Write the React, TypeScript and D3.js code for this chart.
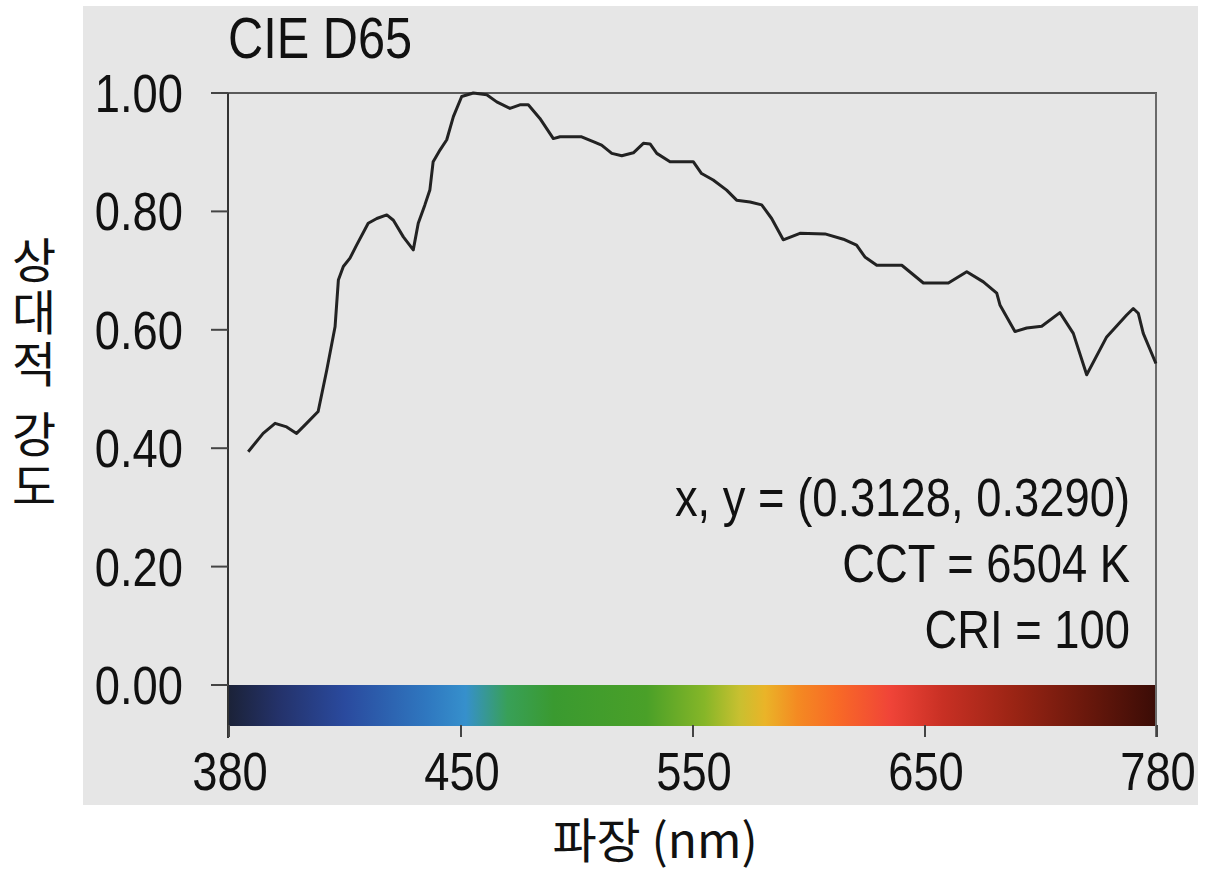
import React from 'react';
import * as d3 from 'd3';

// ---- data ----
const title = 'CIE D65';
const wavelengths = [
  385.8, 390.3, 393.9, 397.4, 400.4, 403.4, 406.9, 409.5, 412.0, 413.0,
  414.5, 416.5, 418.5, 422.0, 424.6, 427.6, 429.6, 432.6, 435.6, 437.1,
  439.1, 440.6, 441.6, 443.7, 445.7, 447.7, 450.3, 455.3, 461.1, 465.4,
  471.1, 475.4, 479.0, 484.0, 489.8, 492.7, 502.0, 507.0, 510.6, 515.0,
  519.3, 524.3, 528.6, 531.5, 534.4, 540.1, 550.1, 553.7, 558.7, 564.5,
  568.8, 574.6, 579.6, 583.9, 588.9, 596.1, 606.9, 614.8, 620.5, 624.1,
  629.2, 640.0, 649.3, 663.1, 673.4, 682.7, 690.2, 692.0, 700.4, 707.0,
  715.4, 725.6, 733.1, 740.6, 751.8, 763.0, 766.7, 769.5, 772.3, 779.4,
];
const intensities = [
  0.394, 0.425, 0.442, 0.436, 0.425, 0.442, 0.462, 0.532, 0.605, 0.684,
  0.707, 0.721, 0.743, 0.780, 0.788, 0.794, 0.785, 0.757, 0.735, 0.780,
  0.811, 0.836, 0.884, 0.904, 0.921, 0.960, 0.994, 1.000, 0.997, 0.985,
  0.974, 0.980, 0.980, 0.957, 0.923, 0.926, 0.926, 0.918, 0.912, 0.898,
  0.894, 0.899, 0.915, 0.914, 0.898, 0.884, 0.884, 0.864, 0.853, 0.836,
  0.819, 0.816, 0.811, 0.788, 0.752, 0.763, 0.762, 0.753, 0.743, 0.723,
  0.709, 0.709, 0.679, 0.679, 0.698, 0.681, 0.662, 0.642, 0.597, 0.603,
  0.606, 0.629, 0.594, 0.524, 0.588, 0.625, 0.636, 0.628, 0.594, 0.543,
];
const xTickValues = [380, 450, 550, 650, 780];
const yTickValues = [0, 0.2, 0.4, 0.6, 0.8, 1.0];
const spectrumStopNm = [380, 395, 415, 440, 452, 470, 490, 530, 555, 570, 581, 595, 612, 635, 660, 700, 740, 780];
const spectrumStopColor = [
  '#1b2238', '#24326a', '#2a4a9e', '#2f78c0', '#3690cc', '#38a058', '#3a9a30', '#4aa028',
  '#86b628', '#c8c030', '#eab428', '#f48a22', '#f86a26', '#f04438', '#c83024', '#9a2414',
  '#6a180c', '#3a0c06',
];
const annotations = ['x, y = (0.3128, 0.3290)', 'CCT = 6504 K', 'CRI = 100'];
const yLabelWords = ['상대적', '강도'];
const xLabel = '파장 (nm)';

const LATIN = "'Liberation Sans', Arial, sans-serif";
const KOREAN = "'Noto Sans CJK KR', sans-serif";
const NARROW = 0.84;

function NText(props: {
  x: number;
  y: number;
  anchor?: 'start' | 'middle' | 'end';
  size: number;
  children: React.ReactNode;
}) {
  const { x, y, anchor = 'start', size, children } = props;
  return (
    <text
      transform={`translate(${x},${y}) scale(${NARROW},1)`}
      textAnchor={anchor}
      fontFamily={LATIN}
      fontSize={size}
      fill="#111"
    >
      {children}
    </text>
  );
}

export default function App() {
  const x = d3.scaleLinear().domain(xTickValues).range([229, 461, 693, 925, 1157]);
  const y = d3.scaleLinear().domain([0, 1]).range([685, 93]);
  const [x0, x1] = [x(380), x(780)];
  const points = wavelengths.map((nm, i) => ({ nm, v: intensities[i] }));
  const line = d3
    .line<{ nm: number; v: number }>()
    .x((d) => x(d.nm))
    .y((d) => y(d.v));

  return (
    <svg
      width={1206}
      height={874}
      style={{ position: 'absolute', left: 0, top: 0, background: '#ffffff' }}
    >
      <defs>
        <linearGradient id="spec" gradientUnits="userSpaceOnUse" x1={x0} x2={x1} y1={0} y2={0}>
          {spectrumStopNm.map((nm, i) => (
            <stop key={nm} offset={(x(nm) - x0) / (x1 - x0)} stopColor={spectrumStopColor[i]} />
          ))}
        </linearGradient>
      </defs>
      <rect x={83} y={6} width={1115} height={799} fill="#e6e6e6" />

      {/* colour bar */}
      <rect x={x0} y={y(0)} width={x1 - x0} height={41} fill="url(#spec)" />

      {/* frame */}
      <line x1={211} x2={x1} y1={y(1)} y2={y(1)} stroke="#5a5a5a" strokeWidth={2} />
      <line x1={x1 - 1} x2={x1 - 1} y1={y(1)} y2={737} stroke="#6a6a6a" strokeWidth={2} />
      <line x1={228} x2={228} y1={y(1)} y2={738} stroke="#333" strokeWidth={2} />

      {/* y ticks */}
      {yTickValues.map((v) => (
        <g key={v}>
          <line x1={211} x2={228} y1={y(v)} y2={y(v)} stroke="#444" strokeWidth={2} />
          <NText x={183} y={y(v) + 19} anchor="end" size={54}>
            {v.toFixed(2)}
          </NText>
        </g>
      ))}

      {/* x ticks */}
      {xTickValues.map((nm) => (
        <g key={nm}>
          <line x1={x(nm)} x2={x(nm)} y1={725} y2={737} stroke="#444" strokeWidth={2} />
          <NText x={x(nm) + 1} y={790} anchor="middle" size={54}>
            {nm}
          </NText>
        </g>
      ))}

      {/* curve */}
      <path d={line(points) || ''} fill="none" stroke="#222" strokeWidth={3} strokeLinejoin="round" />

      {/* title */}
      <NText x={228} y={58} size={58}>
        {title}
      </NText>

      {/* annotations */}
      {annotations.map((t, i) => (
        <NText key={t} x={1130} y={[516, 582, 648][i]} anchor="end" size={54}>
          {t}
        </NText>
      ))}

      {/* y label (vertical, upright characters) */}
      {yLabelWords.map((w, i) => (
        <text
          key={w}
          x={34}
          y={[236, 410][i]}
          fontFamily={KOREAN}
          fontSize={48}
          fill="#111"
          letterSpacing={4}
          style={{ writingMode: 'vertical-rl', textOrientation: 'upright' } as React.CSSProperties}
        >
          {w}
        </text>
      ))}

      {/* x label */}
      <text x={655} y={858} textAnchor="middle" fontFamily={KOREAN} fontSize={48} fill="#111">
        {xLabel}
      </text>
    </svg>
  );
}
